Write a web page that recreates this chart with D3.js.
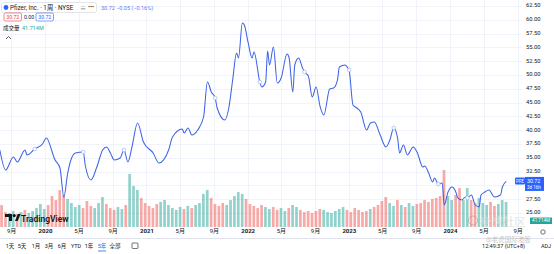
<!DOCTYPE html>
<html>
<head>
<meta charset="utf-8">
<script src="https://cdn.jsdelivr.net/npm/d3@7"></script>
<style>
body { margin: 0; background: #fff; overflow: hidden; }
text { font-family: Roboto, "Noto Sans CJK SC", sans-serif; }
</style>
</head>
<body>
<div id="chart-area"></div>
<script>
const WIDTH = 554, HEIGHT = 254
const PLOT_RIGHT = 522

// weekly bars, week 0 = 2019-07-22
const START = new Date(2019, 6, 22)
const weeks = [0, 3, 7, 9, 13, 14, 18, 22, 24, 27, 28, 31, 33, 35, 37, 39, 43, 44, 47, 50,
    53, 55, 57, 59, 62, 64, 66, 68, 71, 74, 79, 82, 87, 89, 94, 95, 97, 99, 102, 105,
    107, 109, 111, 112, 116, 118, 120, 122, 123, 125, 126, 128, 130, 131, 134, 135, 137, 138, 139, 141,
    143, 145, 148, 149, 151, 152, 154, 156, 157, 159, 161, 163, 165, 167, 170, 172, 174, 175, 178, 179,
    180, 182, 184, 186, 189, 191, 193, 196, 199, 201, 203, 205, 206, 208, 210, 213, 215, 218, 219, 221,
    223, 224, 226, 228, 229, 231, 233, 235, 236, 238, 240, 241, 243, 245, 247, 248, 250, 252, 255, 258,
    259, 261]
const closes = [36.41, 32.79, 35.14, 34.24, 36.41, 35.51, 36.59, 37.5, 38.59, 36.05, 34.96, 33.15, 27.9, 32.25, 34.96, 35.87, 36.05, 33.7, 30.98, 33.33,
    36.41, 36.96, 35.87, 34.6, 34.96, 36.41, 34.24, 36.78, 41.3, 37.86, 35.87, 34.06, 36.41, 38.77, 40.22, 39.49, 40.4, 39.13, 40.04, 42.39,
    48.73, 46.92, 45.83, 44.02, 41.85, 44.02, 49.09, 53.99, 53.08, 59.42, 59.06, 55.8, 53.08, 54.17, 48.73, 47.83, 48.73, 54.35, 51.81, 55.07,
    48.55, 49.46, 53.8, 53.26, 46.92, 51.81, 53.08, 51.27, 50.54, 49.82, 46.01, 47.83, 44.38, 42.75, 47.46, 47.64, 49.09, 51.45, 51.81, 51.45,
    50.91, 44.57, 44.02, 43.3, 40.04, 41.3, 41.49, 39.13, 36.96, 38.22, 40.4, 38.59, 35.87, 37.32, 35.51, 36.96, 36.05, 33.33, 33.51, 32.25,
    30.62, 31.34, 30.25, 30.43, 26.45, 28.8, 29.71, 28.8, 27.72, 27.36, 27.9, 27.72, 28.26, 26.45, 26.09, 28.26, 28.8, 29.17, 27.9, 28.26,
    29.71, 30.72]

// volume, two weeks per bar, millions
const volumes = [165, 112, 105, 120, 98, 112, 128, 105, 120, 142, 172, 135, 165, 232, 202, 277, 240, 210, 180, 150,
    165, 142, 195, 158, 142, 180, 225, 172, 142, 128, 150, 135, 165, 398, 308, 278, 218, 180, 158, 142,
    172, 188, 202, 165, 142, 128, 150, 135, 158, 142, 165, 180, 248, 278, 218, 172, 158, 180, 165, 202,
    232, 262, 248, 210, 172, 158, 142, 165, 150, 135, 150, 128, 142, 120, 142, 165, 150, 128, 112, 120,
    105, 120, 135, 128, 112, 105, 120, 135, 150, 128, 112, 142, 128, 112, 120, 135, 150, 165, 195, 225,
    180, 158, 202, 165, 150, 180, 158, 172, 180, 202, 188, 210, 218, 232, 428, 232, 202, 240, 292, 202,
    292, 202, 180, 218, 180, 165, 188, 158, 172, 202, 188]

const dividendWeeks = [18, 43, 64, 111, 134, 157, 180, 203, 226, 241]

const priceTicks = [25, 27.5, 30, 32.5, 35, 37.5, 40, 42.5, 45, 47.5, 50, 52.5, 55, 57.5, 60, 62.5]
const timeTicks = ["2019-09-01", "2020-01-01", "2020-05-01", "2020-09-01", "2021-01-01", "2021-05-01", "2021-09-01",
    "2022-01-01", "2022-05-01", "2022-09-01", "2023-01-01", "2023-05-01", "2023-09-01", "2024-01-01", "2024-05-01", "2024-09-01"]
const timeLabels = ["9月", "2020", "5月", "9月", "2021", "5月", "9月", "2022", "5月", "9月", "2023", "5月", "9月", "2024", "5月", "9月"]
const ranges = ["1天", "5天", "1月", "3月", "6月", "YTD", "1年", "5年", "全部"]

const weekDate = w => d3.timeDay.offset(START, w * 7)
const parse = d3.timeParse("%Y-%m-%d")

var svg = d3.select("#chart-area").append("svg")
    .attr("width", WIDTH)
    .attr("height", HEIGHT)

var xScale = d3.scaleTime()
    .domain([new Date(2020, 0, 1), new Date(2024, 0, 1)])
    .range([45, 450])

var yScale = d3.scaleLinear()
    .domain([25, 62.5])
    .range([213, 6])

var volScale = d3.scaleLinear()
    .domain([0, 600])
    .range([227, 147])

var lastY = yScale(closes[closes.length - 1])

// grid
svg.append("g").selectAll("line.h").data(priceTicks).enter().append("line")
    .attr("x1", 0).attr("x2", PLOT_RIGHT)
    .attr("y1", d => Math.round(yScale(d)) + 0.5)
    .attr("y2", d => Math.round(yScale(d)) + 0.5)
    .attr("stroke", "#f0f3fa")
svg.append("g").selectAll("line.v").data(timeTicks).enter().append("line")
    .attr("x1", d => Math.round(xScale(parse(d))) + 0.5)
    .attr("x2", d => Math.round(xScale(parse(d))) + 0.5)
    .attr("y1", 0).attr("y2", 227)
    .attr("stroke", "#f0f3fa")

// price axis on the right, labels under the last price box are hidden
var yAxisCall = d3.axisRight(yScale)
    .tickValues(priceTicks.filter(d => Math.abs(yScale(d) - lastY) > 9))
    .tickSize(0)
    .tickPadding(0)
    .tickFormat(d3.format(".2f"))
var yAxisGroup = svg.append("g")
    .attr("transform", "translate(526,-1)")
    .call(yAxisCall)
yAxisGroup.select(".domain").remove()
yAxisGroup.selectAll("text").attr("font-size", "5.8px").attr("fill", "#131722")

// time axis
var xAxisCall = d3.axisBottom(xScale)
    .tickValues(timeTicks.map(parse))
    .tickSize(0)
    .tickPadding(0)
    .tickFormat((d, i) => timeLabels[i])
var xAxisGroup = svg.append("g")
    .attr("transform", "translate(0,229)")
    .call(xAxisCall)
xAxisGroup.select(".domain").remove()
xAxisGroup.selectAll("text")
    .attr("font-size", "6px")
    .attr("fill", "#131722")
    .attr("font-weight", (d, i) => /^\d{4}$/.test(timeLabels[i]) ? "bold" : "normal")

// interpolated close just for colouring the volume bars
function closeAt(w) {
    var i = d3.bisectLeft(weeks, w)
    if (i <= 0) return closes[0]
    if (i >= weeks.length) return closes[closes.length - 1]
    var t = (w - weeks[i - 1]) / (weeks[i] - weeks[i - 1])
    return closes[i - 1] + t * (closes[i] - closes[i - 1])
}

// volume bars
svg.append("g").selectAll("rect").data(volumes).enter().append("rect")
    .attr("x", (d, i) => xScale(weekDate(i * 2)) + 0.4)
    .attr("width", (d, i) => xScale(weekDate(i * 2 + 2)) - xScale(weekDate(i * 2)) - 1.2)
    .attr("y", d => volScale(d))
    .attr("height", d => volScale(0) - volScale(d))
    .attr("fill", (d, i) => closeAt(i * 2 + 2) >= closeAt(i * 2 - 0.5) ? "#26a69a" : "#ef5350")
    .attr("fill-opacity", 0.5)

// price line
var line = d3.line()
    .x((d, i) => xScale(weekDate(weeks[i])))
    .y(d => yScale(d))
    .curve(d3.curveMonotoneX)
svg.append("path")
    .datum(closes)
    .attr("d", line)
    .attr("fill", "none")
    .attr("stroke", "#3d63e6")
    .attr("stroke-width", 1.05)
    .attr("stroke-linejoin", "round")

svg.append("g").selectAll("circle").data(dividendWeeks).enter().append("circle")
    .attr("cx", d => xScale(weekDate(d)))
    .attr("cy", d => yScale(closeAt(d)))
    .attr("r", 1.8)
    .attr("fill", "#fff")
    .attr("stroke", "#a9bcf2")
    .attr("stroke-width", 0.8)

// last price labels
svg.append("rect").attr("x", 515).attr("y", lastY - 4).attr("width", 10).attr("height", 7)
    .attr("rx", 1).attr("fill", "#2962ff")
svg.append("text").attr("x", 520).attr("y", lastY + 1.5).attr("text-anchor", "middle")
    .attr("font-size", "4.5px").attr("fill", "#fff").text("PFE")
svg.append("rect").attr("x", 525).attr("y", lastY - 4.5).attr("width", 19).attr("height", 14)
    .attr("fill", "#2962ff")
svg.append("text").attr("x", 527).attr("y", lastY + 1.3)
    .attr("font-size", "5.3px").attr("fill", "#fff").text("30.72")
svg.append("text").attr("x", 527).attr("y", lastY + 7.6)
    .attr("font-size", "4.5px").attr("fill", "#fff").text("3d 16h")

// volume value label
svg.append("rect").attr("x", 530).attr("y", 217.5).attr("width", 22).attr("height", 6.5)
    .attr("fill", "#26a69a")
svg.append("text").attr("x", 541).attr("y", 222.4).attr("text-anchor", "middle")
    .attr("font-size", "4.5px").attr("fill", "#fff").text("41.714M")

// legend, top left
var legend = svg.append("g")
legend.append("rect").attr("x", 1.5).attr("y", 2.5).attr("width", 95).attr("height", 10)
    .attr("rx", 2).attr("fill", "#fff").attr("stroke", "#d1d4dc").attr("stroke-width", 0.6)
legend.append("circle").attr("cx", 6).attr("cy", 7.5).attr("r", 2.4).attr("fill", "#2962ff")
legend.append("text").attr("x", 10).attr("y", 9.7).attr("font-size", "6.3px").attr("fill", "#131722")
    .text("Pfizer, Inc. · 1周 · NYSE")
legend.append("text").attr("x", 80).attr("y", 9.7).attr("font-size", "6px").attr("fill", "#787b86").text("≡")
legend.append("text").attr("x", 88).attr("y", 9.2).attr("font-size", "6px").attr("fill", "#131722").text("•••")
legend.append("text").attr("x", 101).attr("y", 9.5).attr("font-size", "5.5px").attr("fill", "#5b7cf0")
    .text("30.72  −0.05 (−0.16%)")

legend.append("rect").attr("x", 4).attr("y", 13).attr("width", 17.5).attr("height", 8)
    .attr("rx", 1.5).attr("fill", "#fff").attr("stroke", "#f23645").attr("stroke-width", 0.6)
legend.append("text").attr("x", 12.75).attr("y", 19).attr("text-anchor", "middle")
    .attr("font-size", "5.2px").attr("fill", "#f23645").text("30.72")
legend.append("text").attr("x", 29).attr("y", 19).attr("text-anchor", "middle")
    .attr("font-size", "5.2px").attr("fill", "#131722").text("0.00")
legend.append("rect").attr("x", 36).attr("y", 13).attr("width", 17.5).attr("height", 8)
    .attr("rx", 1.5).attr("fill", "#fff").attr("stroke", "#2962ff").attr("stroke-width", 0.6)
legend.append("text").attr("x", 44.75).attr("y", 19).attr("text-anchor", "middle")
    .attr("font-size", "5.2px").attr("fill", "#2962ff").text("30.72")

legend.append("text").attr("x", 3).attr("y", 30).attr("font-size", "5.5px").attr("fill", "#131722").text("成交量")
legend.append("text").attr("x", 22).attr("y", 30).attr("font-size", "5.5px").attr("fill", "#22ab94").text("41.714M")
legend.append("path").attr("d", "M6,39 L8.5,36.5 L11,39").attr("fill", "none")
    .attr("stroke", "#131722").attr("stroke-width", 0.7)

// tradingview logo
var logo = svg.append("g").attr("transform", "translate(5,214)")
logo.append("path").attr("d", "M0,0 H7 V7 H4 V3 H0 Z").attr("fill", "#131722")
logo.append("circle").attr("cx", 9.2).attr("cy", 1.6).attr("r", 1.6).attr("fill", "#131722")
logo.append("path").attr("d", "M10,7 L12.8,0 H15.6 L12.8,7 Z").attr("fill", "#131722")
svg.append("text").attr("x", 21).attr("y", 221.5).attr("font-size", "8.5px").attr("font-weight", "600")
    .attr("fill", "#131722").text("TradingView")

// bottom toolbar
svg.append("line").attr("x1", 0).attr("x2", WIDTH).attr("y1", 238.5).attr("y2", 238.5).attr("stroke", "#e0e3eb")
var rangeX = [10, 22, 36, 49, 62, 76, 89, 102, 115]
svg.append("g").selectAll("text").data(ranges).enter().append("text")
    .attr("x", (d, i) => rangeX[i])
    .attr("y", 248)
    .attr("text-anchor", "middle")
    .attr("font-size", "5.5px")
    .attr("fill", d => d === "5年" ? "#2962ff" : "#131722")
    .text(d => d)
svg.append("line").attr("x1", 98).attr("x2", 106).attr("y1", 251).attr("y2", 251)
    .attr("stroke", "#2962ff").attr("stroke-width", 0.8)
svg.append("rect").attr("x", 132).attr("y", 243).attr("width", 6).attr("height", 5.5).attr("rx", 1)
    .attr("fill", "none").attr("stroke", "#131722").attr("stroke-width", 0.6)
svg.append("text").attr("x", 525).attr("y", 248).attr("text-anchor", "end")
    .attr("font-size", "5.5px").attr("fill", "#131722").text("12:49:37 (UTC+8)")
svg.append("text").attr("x", 546).attr("y", 248).attr("text-anchor", "middle")
    .attr("font-size", "5.5px").attr("fill", "#131722").text("ADJ")
svg.append("circle").attr("cx", 543).attr("cy", 232).attr("r", 2.2).attr("fill", "none")
    .attr("stroke", "#131722").attr("stroke-width", 0.6)

// watermark of the re-poster
var wm = svg.append("g").attr("opacity", 0.45)
wm.append("circle").attr("cx", 473).attr("cy", 220.5).attr("r", 4.5).attr("fill", "none")
    .attr("stroke", "#888").attr("stroke-width", 1)
wm.append("text").attr("x", 480).attr("y", 225.5).attr("font-size", "11.5px").attr("fill", "#777")
    .attr("stroke", "#fff").attr("stroke-width", 0.4).text("老虎社区")
wm.append("text").attr("x", 486).attr("y", 242).attr("font-size", "6.5px").attr("fill", "#888")
    .text("@老虎国际港股")
</script>
</body>
</html>
